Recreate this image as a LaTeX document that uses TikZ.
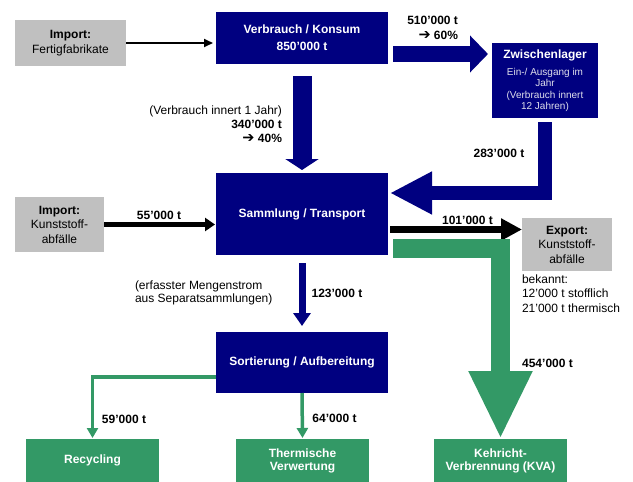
\documentclass[tikz,border=0pt]{standalone}
\usepackage{fontspec}
\setmainfont{Liberation Sans}
\newfontfamily\dejavu{DejaVu Sans}
\usetikzlibrary{arrows.meta,calc}
\definecolor{navyb}{RGB}{0,0,128}
\definecolor{seagreen}{RGB}{51,153,102}
\definecolor{boxgray}{RGB}{192,192,192}
\definecolor{subtxt}{RGB}{222,222,235}
\newcommand{\harrow}{{\dejavu\fontsize{14.5}{14}\selectfont ➔}}
\begin{document}
\begin{tikzpicture}[x=1pt,y=-1pt,
  every node/.style={font=\fontsize{12}{14}\selectfont, inner sep=0pt, outer sep=0pt},
  bluebox/.style={fill=navyb, text=white, font=\fontsize{12}{14}\selectfont\bfseries, align=center},
  graybox/.style={fill=boxgray, text=black, align=center, font=\fontsize{12}{14.5}\selectfont},
  greenbox/.style={fill=seagreen, text=white, font=\fontsize{12}{13}\selectfont\bfseries, align=center},
  lbl/.style={font=\fontsize{12}{14}\selectfont\bfseries},
  note/.style={font=\fontsize{12}{14}\selectfont},
  thinarrow/.style={line width=2pt, -{Triangle[length=9pt,width=8pt]}},
  greenthin/.style={seagreen, line width=3.5pt, line join=miter, -{Triangle[length=10pt,width=11pt]}}
]
\useasboundingbox (0,0) rectangle (633,482);

% boxes
\node[graybox, minimum width=111pt, minimum height=46pt] (imp1) at (70.5,43) {\textbf{Import:}\\Fertigfabrikate};
\node[bluebox, minimum width=172pt, minimum height=52pt] (verb) at (302,38) {Verbrauch / Konsum\\[3pt]850'000 t};
\node[fill=navyb, text=subtxt, align=center, font=\fontsize{10}{11.5}\selectfont, minimum width=106pt, minimum height=75pt] (zw) at (545,80.5)
  {{\color{white}\fontsize{12}{14}\selectfont\bfseries Zwischenlager}\\[5.5pt]Ein-/ Ausgang im\\Jahr\\(Verbrauch innert\\12 Jahren)};
\node[bluebox, minimum width=172pt, minimum height=82pt] (samm) at (302,214) {Sammlung / Transport};
\node[graybox, minimum width=89pt, minimum height=55pt] (imp2) at (59.5,224.5) {\textbf{Import:}\\Kunststoff-\\abfälle};
\node[graybox, minimum width=90pt, minimum height=53pt] (exp) at (567,244.5) {\textbf{Export:}\\Kunststoff-\\abfälle};
\node[bluebox, minimum width=172pt, minimum height=61pt] (sort) at (302,362.5) {Sortierung / Aufbereitung};
\node[greenbox, minimum width=133pt, minimum height=43pt] (rec) at (92.5,460.5) {Recycling};
\node[greenbox, minimum width=133pt, minimum height=43pt] (therm) at (302.5,460.5) {Thermische\\Verwertung};
\node[greenbox, minimum width=133pt, minimum height=43pt] (kva) at (500.5,460.5) {Kehricht-\\Verbrennung (KVA)};

% connectors
\draw[thinarrow, shorten >=3pt] (imp1.east) -- (imp1.east -| verb.west);
\draw[navyb, line width=19pt, -{Triangle[length=11pt,width=33pt]}, shorten <=12pt, shorten >=3pt] (verb.south) -- (samm.north);
\draw[navyb, line width=16pt, -{Triangle[length=18pt,width=36pt]}, shorten <=5pt, shorten >=4pt]
  ([yshift=-16pt]verb.east) -- ([yshift=-16pt]verb.east -| zw.west);
\draw[navyb, line width=14pt, line join=miter, -{Triangle[length=42pt,width=40pt]}, shorten <=4pt, shorten >=2pt]
  (zw.south) |- ([yshift=-20pt]samm.north east);
\draw[line width=4.5pt, -{Triangle[length=10pt,width=13pt]}, shorten >=1pt] (imp2.east) -- (imp2.east -| samm.west);
\draw[line width=7pt, -{Triangle[length=21pt,width=21pt]}, shorten <=2pt]
  ([yshift=-15.5pt]samm.east) -- ([yshift=-15.5pt]samm.east -| exp.west);
\draw[seagreen, line width=19.5pt, line join=miter, -{Triangle[length=68pt,width=59pt]}, shorten <=5pt]
  ([yshift=-34.5pt]samm.east) -| (kva.north);
\draw[navyb, line width=7pt, -{Triangle[length=13pt,width=17pt]}, shorten <=8pt, shorten >=6pt] (samm.south) -- (sort.north);
\draw[greenthin, shorten >=1pt] ([yshift=-14.5pt]sort.west) -| (rec.north);
\draw[greenthin, shorten >=1pt] (sort.south) -- (therm.north);

% labels
\node[lbl, anchor=east, align=right, font=\fontsize{12}{15}\selectfont\bfseries] (l510) at (458,27.5) {510'000 t\\\harrow\ 60\%};
\node[note, anchor=east, align=right] (l340) at (282,124) {(Verbrauch innert 1 Jahr)\\\textbf{340'000 t}\\\textbf{\harrow\ 40\%}};
\node[lbl] (l283) at (499,153) {283'000 t};
\node[lbl] (l55) at (159,215) {55'000 t};
\node[lbl] (l101) at (467.5,220) {101'000 t};
\node[note, anchor=west, align=left, font=\fontsize{12}{13}\selectfont] (lerf) at (135,293) {(erfasster Mengenstrom\\aus Separatsammlungen)};
\node[lbl] (l123) at (337,293) {123'000 t};
\node[note, anchor=west, align=left, font=\fontsize{12}{14.5}\selectfont] (lbek) at (522,293.5) {bekannt:\\12'000 t stofflich\\21'000 t thermisch};
\node[lbl] (l454) at (547.5,363) {454'000 t};
\node[lbl] (l59) at (124,419) {59'000 t};
\node[lbl] (l64) at (334.5,418) {64'000 t};
\end{tikzpicture}
\end{document}
